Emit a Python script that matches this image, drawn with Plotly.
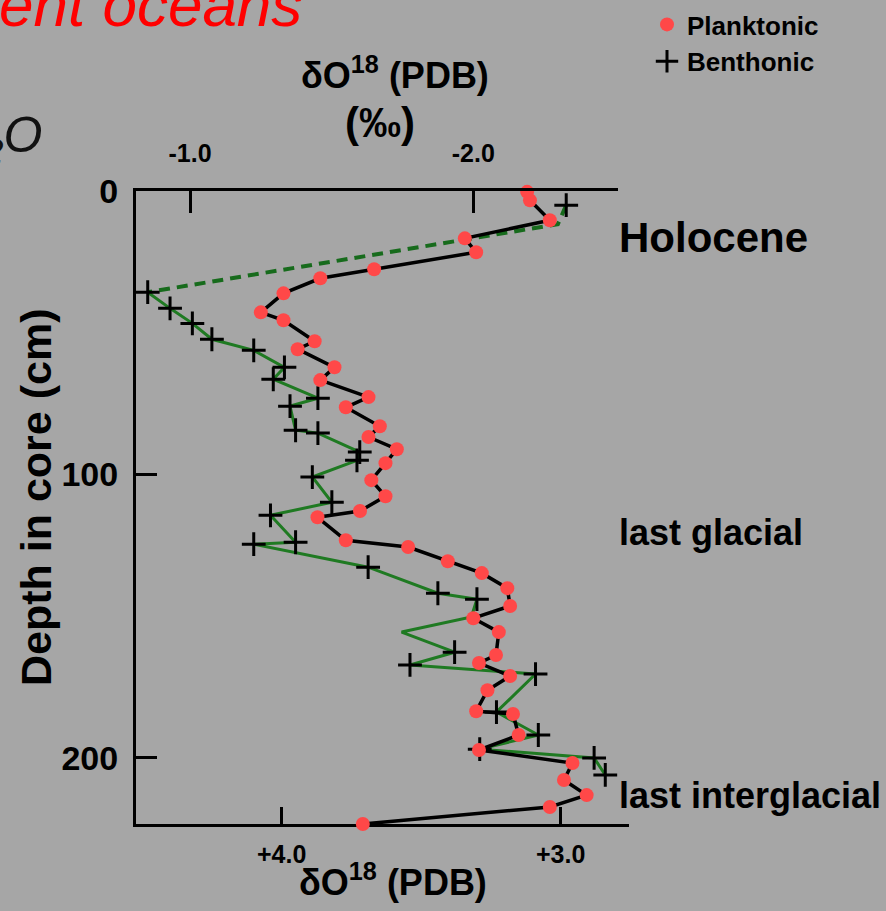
import plotly.graph_objects as go

# --- data -------------------------------------------------------------
# Planktonic foraminifera: delta O-18 (PDB, top axis) against depth in core (cm)
plank_d18o = [-2.19, -2.20, -2.27, -1.97, -2.01, -1.65, -1.46, -1.33, -1.25, -1.33,
              -1.44, -1.38, -1.51, -1.46, -1.63, -1.55, -1.67, -1.63, -1.73, -1.69,
              -1.64, -1.69, -1.60, -1.45, -1.55, -1.77, -1.91, -2.03, -2.12, -2.13,
              -2.00, -2.09, -2.08, -2.02, -2.13, -2.05, -2.01, -2.14, -2.16, -2.02,
              -2.35, -2.32, -2.40, -2.27, -1.61]
plank_depth = [0.3, 3.3, 10.3, 16.7, 21.6, 27.6, 30.8, 36.1, 42.8, 45.6,
               53.0, 55.8, 62.2, 66.7, 72.7, 76.3, 83.0, 86.8, 91.1, 96.0,
               102.0, 107.7, 112.9, 115.1, 123.2, 125.6, 130.6, 134.8, 140.1, 146.4,
               150.7, 155.6, 163.7, 166.5, 171.1, 176.1, 183.5, 184.5, 191.9, 197.2,
               201.8, 207.8, 213.1, 217.3, 223.3]

# Benthonic foraminifera: delta O-18 (PDB, bottom axis) against depth in core (cm)
benth_d18o = [2.98, 3.01, 4.48, 4.40, 4.32, 4.25, 4.10, 3.99, 4.03, 3.87,
              3.97, 3.95, 3.87, 3.72, 3.73, 3.89, 3.82, 4.04, 3.95, 4.10,
              3.69, 3.44, 3.30, 3.32, 3.57, 3.38, 3.54, 3.09, 3.23, 3.08,
              3.29, 2.88, 2.84]
benth_depth = [5.0, 11.7, 35.7, 41.4, 46.7, 52.3, 56.2, 62.2, 66.4, 73.1,
               75.9, 84.4, 85.4, 92.1, 95.0, 100.9, 109.8, 114.4, 123.9, 124.6,
               132.7, 141.9, 144.0, 150.3, 155.6, 162.7, 167.2, 170.4, 183.8, 191.9,
               196.9, 200.0, 206.0]
benth_unmarked = {1, 23, 24}   # line vertices without a cross symbol
n_dashed = 3                   # the Holocene part of the benthonic curve is dashed

top_ticks = [-1.0, -2.0]
top_ticktext = ["-1.0", "-2.0"]
bottom_ticks = [4.0, 3.0]
bottom_ticktext = ["+4.0", "+3.0"]
depth_ticks = [0, 100, 200]

zone_labels = ["Holocene", "last glacial", "last interglacial"]
zone_depths = [16.3, 120.3, 213.4]
zone_sizes = [42, 36, 36]

# --- styling ----------------------------------------------------------
FONT = "Liberation Sans, Arial, Helvetica, sans-serif"
BG = "#a6a6a6"
RED = "#ff4848"
GREEN = "#1f7a22"
DGREEN = "#176b1c"
W, H = 886, 911
ML, MR, MT, MB = 136, 257, 191, 87
PW, PH = W - ML - MR, H - MT - MB


def px(xpix):
    return (xpix - ML) / PW


def py(ypix):
    return (H - MB - ypix) / PH


def bold(size, color="black"):
    return dict(family=FONT, size=size, color=color, weight="bold")


fig = go.Figure()

# benthonic curve: dashed Holocene segment, then solid
fig.add_trace(go.Scatter(
    x=benth_d18o[:n_dashed], y=benth_depth[:n_dashed], xaxis="x", yaxis="y",
    mode="lines", line=dict(color=DGREEN, width=4, dash="11px,7px"),
    showlegend=False, hoverinfo="skip", cliponaxis=False))
fig.add_trace(go.Scatter(
    x=benth_d18o[n_dashed - 1:], y=benth_depth[n_dashed - 1:], xaxis="x", yaxis="y",
    mode="lines", line=dict(color=GREEN, width=3),
    showlegend=False, hoverinfo="skip", cliponaxis=False))
marked = [i for i in range(len(benth_d18o)) if i not in benth_unmarked]
fig.add_trace(go.Scatter(
    x=[benth_d18o[i] for i in marked], y=[benth_depth[i] for i in marked],
    xaxis="x", yaxis="y", mode="markers", name="Benthonic", legendrank=2,
    marker=dict(symbol="cross-thin", size=17, line=dict(color="black", width=3)),
    cliponaxis=False))

# planktonic curve
fig.add_trace(go.Scatter(
    x=plank_d18o, y=plank_depth, xaxis="x2", yaxis="y",
    mode="lines", line=dict(color="black", width=3.5),
    showlegend=False, hoverinfo="skip", cliponaxis=False))
fig.add_trace(go.Scatter(
    x=plank_d18o, y=plank_depth, xaxis="x2", yaxis="y",
    mode="markers", name="Planktonic", legendrank=1,
    marker=dict(symbol="circle", size=14, color=RED),
    cliponaxis=False))

axis_common = dict(ticks="inside", tickwidth=3, tickcolor="black", showline=True,
                   linewidth=3, linecolor="black", showgrid=False, zeroline=False)

annotations = [
    dict(text="δO<sup>18</sup> (PDB)", x=px(395), y=py(73), font=bold(36)),
    dict(text="(‰)", x=px(380), y=py(122), font=bold(42)),
    dict(text="δO<sup>18</sup> (PDB)", x=px(393), y=py(880), font=bold(36)),
    dict(text="Depth in core (cm)", x=px(36), y=py(497), textangle=-90, font=bold(43)),
    dict(text="ent oceans", x=px(-3), y=py(4), xanchor="left",
         font=dict(family=FONT, size=62, color="#ff0000", style="italic")),
    dict(text="<sub>2</sub>O", x=px(44), y=py(138), xanchor="right",
         font=dict(family=FONT, size=50, color="#111111", style="italic")),
]
for lab, dep, size in zip(zone_labels, zone_depths, zone_sizes):
    annotations.append(dict(text=lab, x=px(617), y=dep, yref="y", xanchor="left",
                            font=bold(size)))
for a in annotations:
    a.setdefault("xref", "paper")
    a.setdefault("yref", "paper")
    a.setdefault("showarrow", False)
    a.setdefault("xanchor", "center")
    a.setdefault("yanchor", "middle")

fig.update_layout(
    width=W, height=H,
    margin=dict(l=ML, r=MR, t=MT, b=MB, pad=0, autoexpand=False),
    paper_bgcolor=BG, plot_bgcolor="rgba(0,0,0,0)",
    font=dict(family=FONT, color="black"),
    xaxis=dict(domain=[0, 1], range=[4.522, 2.755], anchor="y", side="bottom",
               tickvals=bottom_ticks, ticktext=bottom_ticktext, ticklen=17,
               tickfont=bold(25), ticklabelstandoff=6, automargin=False, **axis_common),
    xaxis2=dict(domain=[0, px(618)], range=[-0.8094, -2.5107], anchor="y", side="top",
                tickvals=top_ticks, ticktext=top_ticktext, ticklen=22,
                tickfont=bold(25), ticklabelstandoff=16, automargin=False, **axis_common),
    yaxis=dict(domain=[0, 1], range=[223.3, 0], anchor="x",
               tickvals=depth_ticks, ticktext=[str(t) for t in depth_ticks], ticklen=21,
               tickfont=bold(34), ticklabelstandoff=8, automargin=False, **axis_common),
    legend=dict(x=px(647), y=py(1), xanchor="left", yanchor="top",
                bgcolor="rgba(0,0,0,0)", font=bold(26), tracegroupgap=8,
                itemsizing="trace"),
    annotations=annotations,
    showlegend=True,
)

fig.write_html("out.html")
